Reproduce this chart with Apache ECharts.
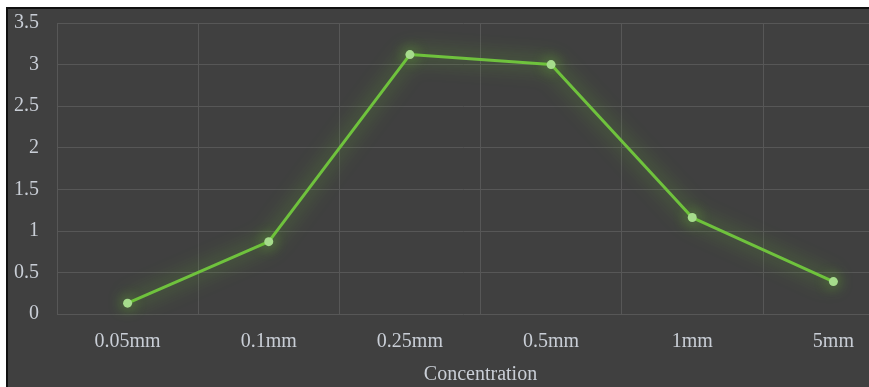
<!DOCTYPE html>
<html>
<head>
<meta charset="utf-8">
<script src="https://cdn.jsdelivr.net/npm/echarts@6/dist/echarts.min.js"></script>
<style>
  html, body { margin: 0; padding: 0; background: #ffffff; }
  #frame {
    position: absolute; left: 6px; top: 7px; width: 863px; height: 380px;
    border-left: 2px solid #111; border-top: 2px solid #111; box-sizing: border-box;
  }
  #concChart {
    position: absolute; left: 8px; top: 9px; width: 861px; height: 378px;
    background: #404040;
  }
</style>
</head>
<body>
<div id="frame"></div>
<div id="concChart"></div>
<script>
  var categories = ['0.05mm', '0.1mm', '0.25mm', '0.5mm', '1mm', '5mm'];
  var values = [0.13, 0.87, 3.12, 3.0, 1.16, 0.39];
  var yTicks = [0, 0.5, 1, 1.5, 2, 2.5, 3, 3.5];

  var labelColor = '#c9ced6';
  var splitColor = '#575757';
  var lineColor = '#6fc23d';
  var fontFace = 'Liberation Serif';

  var chart = echarts.init(document.getElementById('concChart'));
  var option = {
    animation: false,
    grid: { left: 49, top: 14, width: 847, height: 291, outerBoundsMode: 'none', containLabel: false },
    xAxis: {
      type: 'category',
      boundaryGap: true,
      data: categories,
      name: 'Concentration',
      nameLocation: 'middle',
      nameGap: 51,
      nameTextStyle: { color: labelColor, fontFamily: fontFace, fontSize: 20 },
      axisLine: { show: false },
      axisTick: { show: false },
      axisLabel: { color: labelColor, fontFamily: fontFace, fontSize: 20, margin: 18 },
      splitLine: { show: true, lineStyle: { color: splitColor, width: 1 } }
    },
    yAxis: {
      type: 'value',
      min: yTicks[0],
      max: yTicks[yTicks.length - 1],
      interval: 0.5,
      axisLine: { show: false },
      axisTick: { show: false },
      axisLabel: { color: labelColor, fontFamily: fontFace, fontSize: 20, margin: 18 },
      splitLine: { show: true, lineStyle: { color: splitColor, width: 1 } }
    },
    series: [{
      type: 'line',
      data: values,
      symbol: 'circle',
      symbolSize: 9,
      lineStyle: {
        color: lineColor, width: 3,
        shadowColor: 'rgba(110,200,50,0.9)', shadowBlur: 20
      },
      itemStyle: {
        color: '#a6dc8c', borderWidth: 0,
        shadowColor: 'rgba(110,200,50,0.9)', shadowBlur: 14
      }
    }]
  };
  chart.setOption(option);
</script>
</body>
</html>
